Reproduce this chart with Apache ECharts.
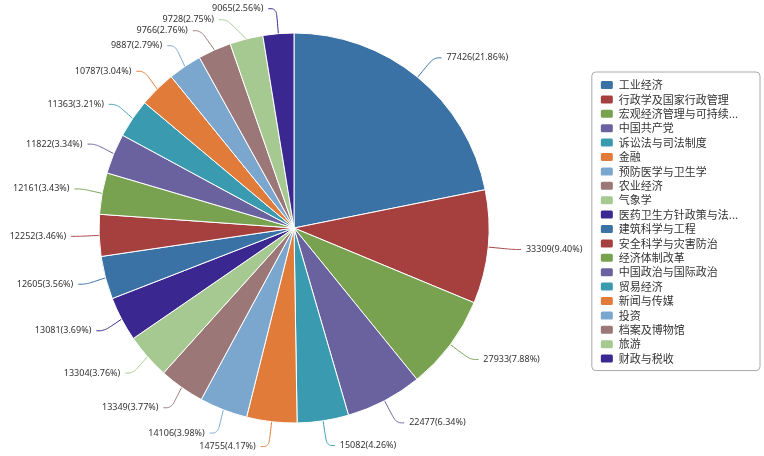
<!DOCTYPE html>
<html><head><meta charset="utf-8">
<script src="https://cdn.jsdelivr.net/npm/echarts@6/dist/echarts.min.js"></script>
<style>html,body{margin:0;padding:0;background:#fff}#c{width:764px;height:456px}</style>
</head><body><div id="c"></div>
<script>
const categories = ['工业经济','行政学及国家行政管理','宏观经济管理与可持续发展','中国共产党','诉讼法与司法制度','金融','预防医学与卫生学','农业经济','气象学','医药卫生方针政策与法律法规研究','建筑科学与工程','安全科学与灾害防治','经济体制改革','中国政治与国际政治','贸易经济','新闻与传媒','投资','档案及博物馆','旅游','财政与税收'];
const values = [77426,33309,27933,22477,15082,14755,14106,13349,13304,13081,12605,12252,12161,11822,11363,10787,9887,9766,9728,9065];
const palette = ['#3b72a6','#a6403f','#78a150','#6a629e','#3a9bb0','#e07b3a','#7ba7cf','#9b7777','#a6c991','#3a2890'];

const total = values.reduce((a, b) => a + b, 0);
const chart = echarts.init(document.getElementById('c'));
chart.setOption({
  color: palette,
  animation: false,
  legend: {
    orient: 'vertical',
    right: 4,
    top: 72,
    padding: [7, 22, 6, 7],
    borderColor: '#aaa',
    borderWidth: 1,
    borderRadius: 4,
    itemWidth: 14,
    itemHeight: 10,
    itemGap: 2.4,
    icon: 'roundRect',
    textStyle: {fontSize: 11, color: '#333', fontFamily: 'Noto Sans CJK SC'},
    formatter: n => n.length > 10 ? n.slice(0, 10) + '...' : n,
    data: categories
  },
  series: [{
    type: 'pie',
    center: [294, 228],
    radius: [0, 195],
    startAngle: 90,
    clockwise: true,
    itemStyle: {borderColor: '#fff', borderWidth: 1},
    label: {
      formatter: p => p.value + '(' + (p.value / total * 100).toFixed(2) + '%)',
      fontSize: 9, color: '#333', fontFamily: 'Noto Sans', overflow: 'none'
    },
    labelLine: {length: 25, length2: 8, smooth: 0.4},
    data: categories.map((n, i) => ({name: n, value: values[i]}))
  }]
});
</script></body></html>
